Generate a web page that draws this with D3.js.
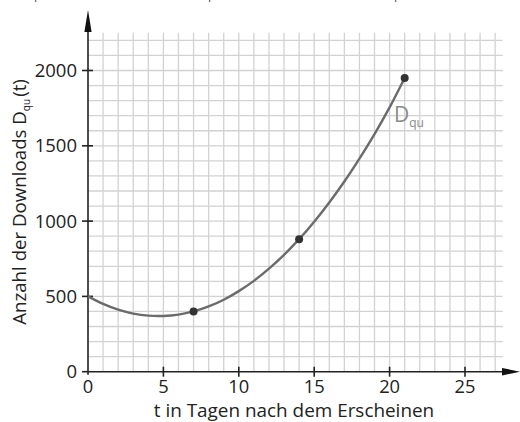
<!DOCTYPE html>
<html><head><meta charset="utf-8">
<script src="https://cdn.jsdelivr.net/npm/d3@7/dist/d3.min.js"></script>
<style>
html,body{margin:0;padding:0;background:#fff;}
svg{display:block;font-family:"Open Sans","Noto Sans",sans-serif;}
</style></head>
<body><svg id="c" width="520" height="422"></svg>
<script>
// data
const tValues = [0,1,2,3,4,5,6,7,8,9,10,11,12,13,14,15,16,17,18,19,20,21];
const downloads = [500,450,412,386,372,370,379,400,433,478,535,603,684,776,880,996,1124,1263,1415,1578,1755,1950];
const markedT = [7,14,21];
const markedD = [400,880,1950];
const xTickValues = [0,5,10,15,20,25];
const yTickValues = [0,500,1000,1500,2000];
const xGridMax = 27, xLineMax = 27.5;
const yGridMax = 2200, yLineMax = 2250;
const topFragments = [37, 211, 397];

const svg = d3.select("#c");
const x = d3.scaleLinear().domain([0,25]).range([88,465]);
const y = d3.scaleLinear().domain([0,2000]).range([371.7,70.5]);

// grid
const g = svg.append("g").attr("stroke","#d2d2d2").attr("stroke-width",1.3);
g.selectAll("line.v").data(d3.range(1, xGridMax+1)).join("line")
  .attr("x1",d=>x(d)).attr("x2",d=>x(d)).attr("y1",y(0)).attr("y2",y(yLineMax));
g.selectAll("line.h").data(d3.range(100, yGridMax+1, 100)).join("line")
  .attr("x1",x(0)).attr("x2",x(xLineMax)).attr("y1",d=>y(d)).attr("y2",d=>y(d));

// axes
const ax = svg.append("g").attr("stroke","#222").attr("stroke-width",1.6);
ax.append("line").attr("x1",x(0)).attr("x2",503).attr("y1",y(0)).attr("y2",y(0));
ax.append("line").attr("x1",x(0)).attr("x2",x(0)).attr("y1",y(0)+3).attr("y2",31);
svg.append("path").attr("fill","#111")
  .attr("d",`M502,${y(0)-3.8}L520,${y(0)}L502,${y(0)+3.8}Z`);
svg.append("path").attr("fill","#111")
  .attr("d",`M${x(0)-3.6},32L${x(0)},10L${x(0)+3.6},32Z`);

// ticks
ax.selectAll("line.xt").data(xTickValues.filter(d=>d>0)).join("line")
  .attr("x1",d=>x(d)).attr("x2",d=>x(d)).attr("y1",y(0)-5).attr("y2",y(0)+5);
ax.selectAll("line.yt").data(yTickValues).join("line")
  .attr("x1",x(0)-6).attr("x2",d=>d===0?x(0):x(0)+5).attr("y1",d=>y(d)).attr("y2",d=>y(d));

// tick labels
svg.selectAll("text.xl").data(xTickValues).join("text")
  .attr("x",d=>x(d)).attr("y",392.5).attr("text-anchor","middle")
  .attr("font-size",18.3).attr("fill","#222").text(d=>d);
svg.selectAll("text.yl").data(yTickValues).join("text")
  .attr("x",77).attr("y",d=>y(d)+6.5).attr("text-anchor","end")
  .attr("font-size",18.5).attr("fill","#222").text(d=>d);

// axis titles
svg.append("text").attr("x",294).attr("y",416.5).attr("text-anchor","middle")
  .attr("font-size",18.9).attr("fill","#222").text("t in Tagen nach dem Erscheinen");
const yt = svg.append("text").attr("transform","translate(26,202) rotate(-90)")
  .attr("text-anchor","middle").attr("font-size",18.7).attr("fill","#222");
yt.append("tspan").text("Anzahl der Downloads D");
yt.append("tspan").attr("font-size",10).attr("dy",4).text("qu");
yt.append("tspan").attr("dy",-4).attr("dx",2).text("(t)");

// curve
const line = d3.line().x((d,i)=>x(tValues[i])).y(d=>y(d)).curve(d3.curveCatmullRom);
svg.append("path").datum(downloads).attr("d",line)
  .attr("fill","none").attr("stroke","#6b6b6b").attr("stroke-width",2.4);
svg.selectAll("circle").data(markedD).join("circle")
  .attr("cx",(d,i)=>x(markedT[i])).attr("cy",d=>y(d)).attr("r",4).attr("fill","#333");

// curve label
const lab = svg.append("text").attr("x",394).attr("y",122).attr("fill","#8a8a8a").attr("font-size",21);
lab.append("tspan").text("D");
lab.append("tspan").attr("font-size",12).attr("dy",5).text("qu");

// cut-off fragments at top (only their lower edge is visible, as in the reference)
svg.selectAll("text.frag").data(topFragments).join("text")
  .attr("x",d=>d).attr("y",-1).attr("text-anchor","middle").attr("font-size",11)
  .attr("fill","#333").text("qu");
</script></body></html>
